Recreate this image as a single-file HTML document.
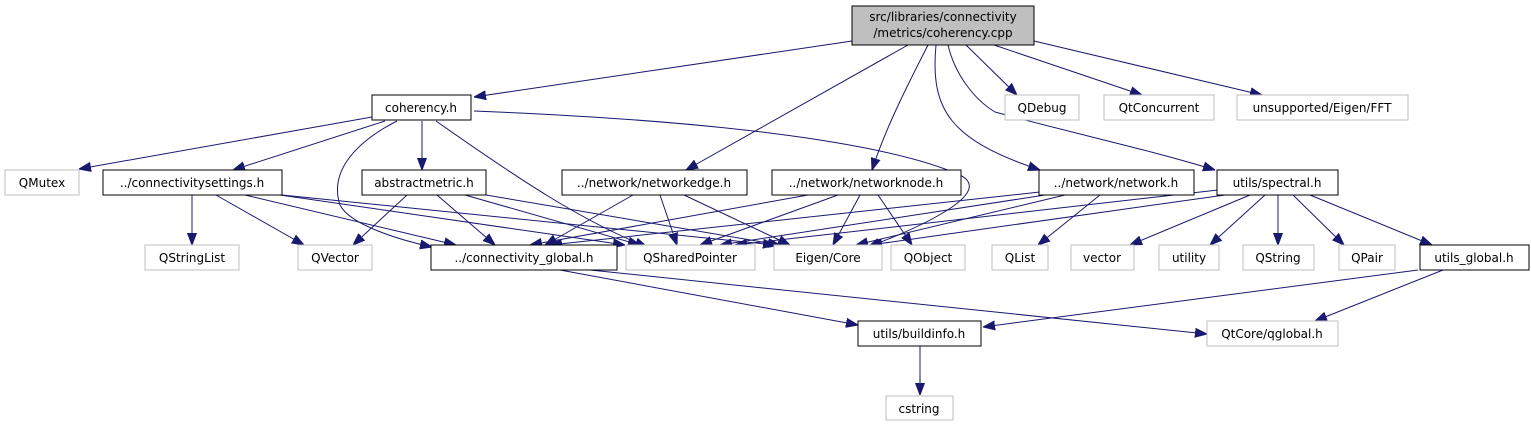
<!DOCTYPE html>
<html><head><meta charset="utf-8"><style>
html,body{margin:0;padding:0;background:#fff;}
svg{display:block;}
text{font-family:"DejaVu Sans","Liberation Sans",sans-serif;font-size:12px;fill:#000;text-anchor:middle;}
.b{fill:#fff;stroke:#000;stroke-width:1;}
.g{fill:#fff;stroke:#bfbfbf;stroke-width:1;}
.e{fill:none;stroke:#191970;stroke-width:1;}
</style></head><body>
<svg width="1531" height="425" viewBox="0 0 1531 425" xmlns="http://www.w3.org/2000/svg">
<defs><marker id="a" viewBox="0 0 12 10" refX="12" refY="5" markerWidth="12" markerHeight="10" markerUnits="userSpaceOnUse" orient="auto"><path d="M0,0.5 L12,5 L0,9.5 z" fill="#191970" stroke="#191970"/></marker></defs>
<g marker-end="url(#a)">
<path class="e" d="M852,41 L474,97"/>
<path class="e" d="M908,45 L686,170"/>
<path class="e" d="M928,45 C905,90 885,130 872,170"/>
<path class="e" d="M936,45 C930,110 950,140 1040,170"/>
<path class="e" d="M948,45 C955,75 975,100 995,112 C1080,135 1150,150 1215,170"/>
<path class="e" d="M966,45 L1017,95"/>
<path class="e" d="M994,45 L1142,95"/>
<path class="e" d="M1034,41 L1262,95"/>
<path class="e" d="M372,117 L79,169"/>
<path class="e" d="M385,121 L233,170"/>
<path class="e" d="M422,121 L422,170"/>
<path class="e" d="M397,121 C350,145 330,175 340,205 C350,225 400,240 432,247"/>
<path class="e" d="M436,121 C520,180 580,220 647,247"/>
<path class="e" d="M474,111 C700,120 880,140 960,175 C1000,195 900,235 868,247"/>
<path class="e" d="M192,195 L192,245"/>
<path class="e" d="M216,195 L304,245"/>
<path class="e" d="M245,195 L456,245"/>
<path class="e" d="M280,195 L625,245"/>
<path class="e" d="M282,195 L775,245"/>
<path class="e" d="M407,195 L353,245"/>
<path class="e" d="M437,195 L495,245"/>
<path class="e" d="M465,195 L640,245"/>
<path class="e" d="M486,195 L780,245"/>
<path class="e" d="M633,195 L545,245"/>
<path class="e" d="M660,195 L677,245"/>
<path class="e" d="M684,195 L790,245"/>
<path class="e" d="M808,195 L530,245"/>
<path class="e" d="M838,195 L700,245"/>
<path class="e" d="M860,195 L833,245"/>
<path class="e" d="M878,195 L912,245"/>
<path class="e" d="M1040,192 L550,245"/>
<path class="e" d="M1045,195 L720,245"/>
<path class="e" d="M1065,195 L856,245"/>
<path class="e" d="M1100,195 L1038,245"/>
<path class="e" d="M1218,190 L735,245"/>
<path class="e" d="M1225,195 L870,245"/>
<path class="e" d="M1250,195 L1130,245"/>
<path class="e" d="M1265,195 L1210,245"/>
<path class="e" d="M1278,195 L1278,245"/>
<path class="e" d="M1293,195 L1344,245"/>
<path class="e" d="M1310,195 L1432,245"/>
<path class="e" d="M560,270 L858,325"/>
<path class="e" d="M590,270 L1207,334"/>
<path class="e" d="M1418,270 L983,327"/>
<path class="e" d="M1443,270 L1315,321"/>
<path class="e" d="M920,346 L920,395"/>
</g>
<rect x="852" y="6" width="182" height="39" fill="#bfbfbf" stroke="#000"/>
<text x="943" y="21">src/libraries/connectivity</text>
<text x="943" y="37">/metrics/coherency.cpp</text>

<rect class="b" x="372" y="95" width="99" height="25"/><text x="421" y="112">coherency.h</text>
<rect class="g" x="1005" y="95" width="74" height="25"/><text x="1042" y="112">QDebug</text>
<rect class="g" x="1104" y="95" width="110" height="25"/><text x="1159" y="112">QtConcurrent</text>
<rect class="g" x="1237" y="95" width="171" height="25"/><text x="1322" y="112">unsupported/Eigen/FFT</text>

<rect class="g" x="5" y="170" width="74" height="25"/><text x="42" y="187">QMutex</text>
<rect class="b" x="103" y="170" width="179" height="25"/><text x="192" y="187">../connectivitysettings.h</text>
<rect class="b" x="362" y="170" width="124" height="25"/><text x="424" y="187">abstractmetric.h</text>
<rect class="b" x="562" y="170" width="185" height="25"/><text x="654" y="187">../network/networkedge.h</text>
<rect class="b" x="772" y="170" width="189" height="25"/><text x="866" y="187">../network/networknode.h</text>
<rect class="b" x="1039" y="170" width="155" height="25"/><text x="1116" y="187">../network/network.h</text>
<rect class="b" x="1217" y="170" width="121" height="25"/><text x="1277" y="187">utils/spectral.h</text>

<rect class="g" x="145" y="245" width="94" height="25"/><text x="192" y="262">QStringList</text>
<rect class="g" x="298" y="245" width="74" height="25"/><text x="335" y="262">QVector</text>
<rect class="b" x="431" y="245" width="186" height="25"/><text x="524" y="262">../connectivity_global.h</text>
<rect class="g" x="626" y="245" width="129" height="25"/><text x="690" y="262">QSharedPointer</text>
<rect class="g" x="774" y="245" width="108" height="25"/><text x="828" y="262">Eigen/Core</text>
<rect class="g" x="891" y="245" width="74" height="25"/><text x="928" y="262">QObject</text>
<rect class="g" x="992" y="245" width="56" height="25"/><text x="1020" y="262">QList</text>
<rect class="g" x="1071" y="245" width="63" height="25"/><text x="1102" y="262">vector</text>
<rect class="g" x="1159" y="245" width="60" height="25"/><text x="1189" y="262">utility</text>
<rect class="g" x="1243" y="245" width="71" height="25"/><text x="1278" y="262">QString</text>
<rect class="g" x="1339" y="245" width="56" height="25"/><text x="1367" y="262">QPair</text>
<rect class="b" x="1420" y="245" width="109" height="25"/><text x="1474" y="262">utils_global.h</text>

<rect class="b" x="858" y="321" width="123" height="25"/><text x="919" y="338">utils/buildinfo.h</text>
<rect class="g" x="1207" y="321" width="131" height="25"/><text x="1272" y="338">QtCore/qglobal.h</text>

<rect class="g" x="886" y="396" width="67" height="24"/><text x="919" y="413">cstring</text>
</svg>
</body></html>
